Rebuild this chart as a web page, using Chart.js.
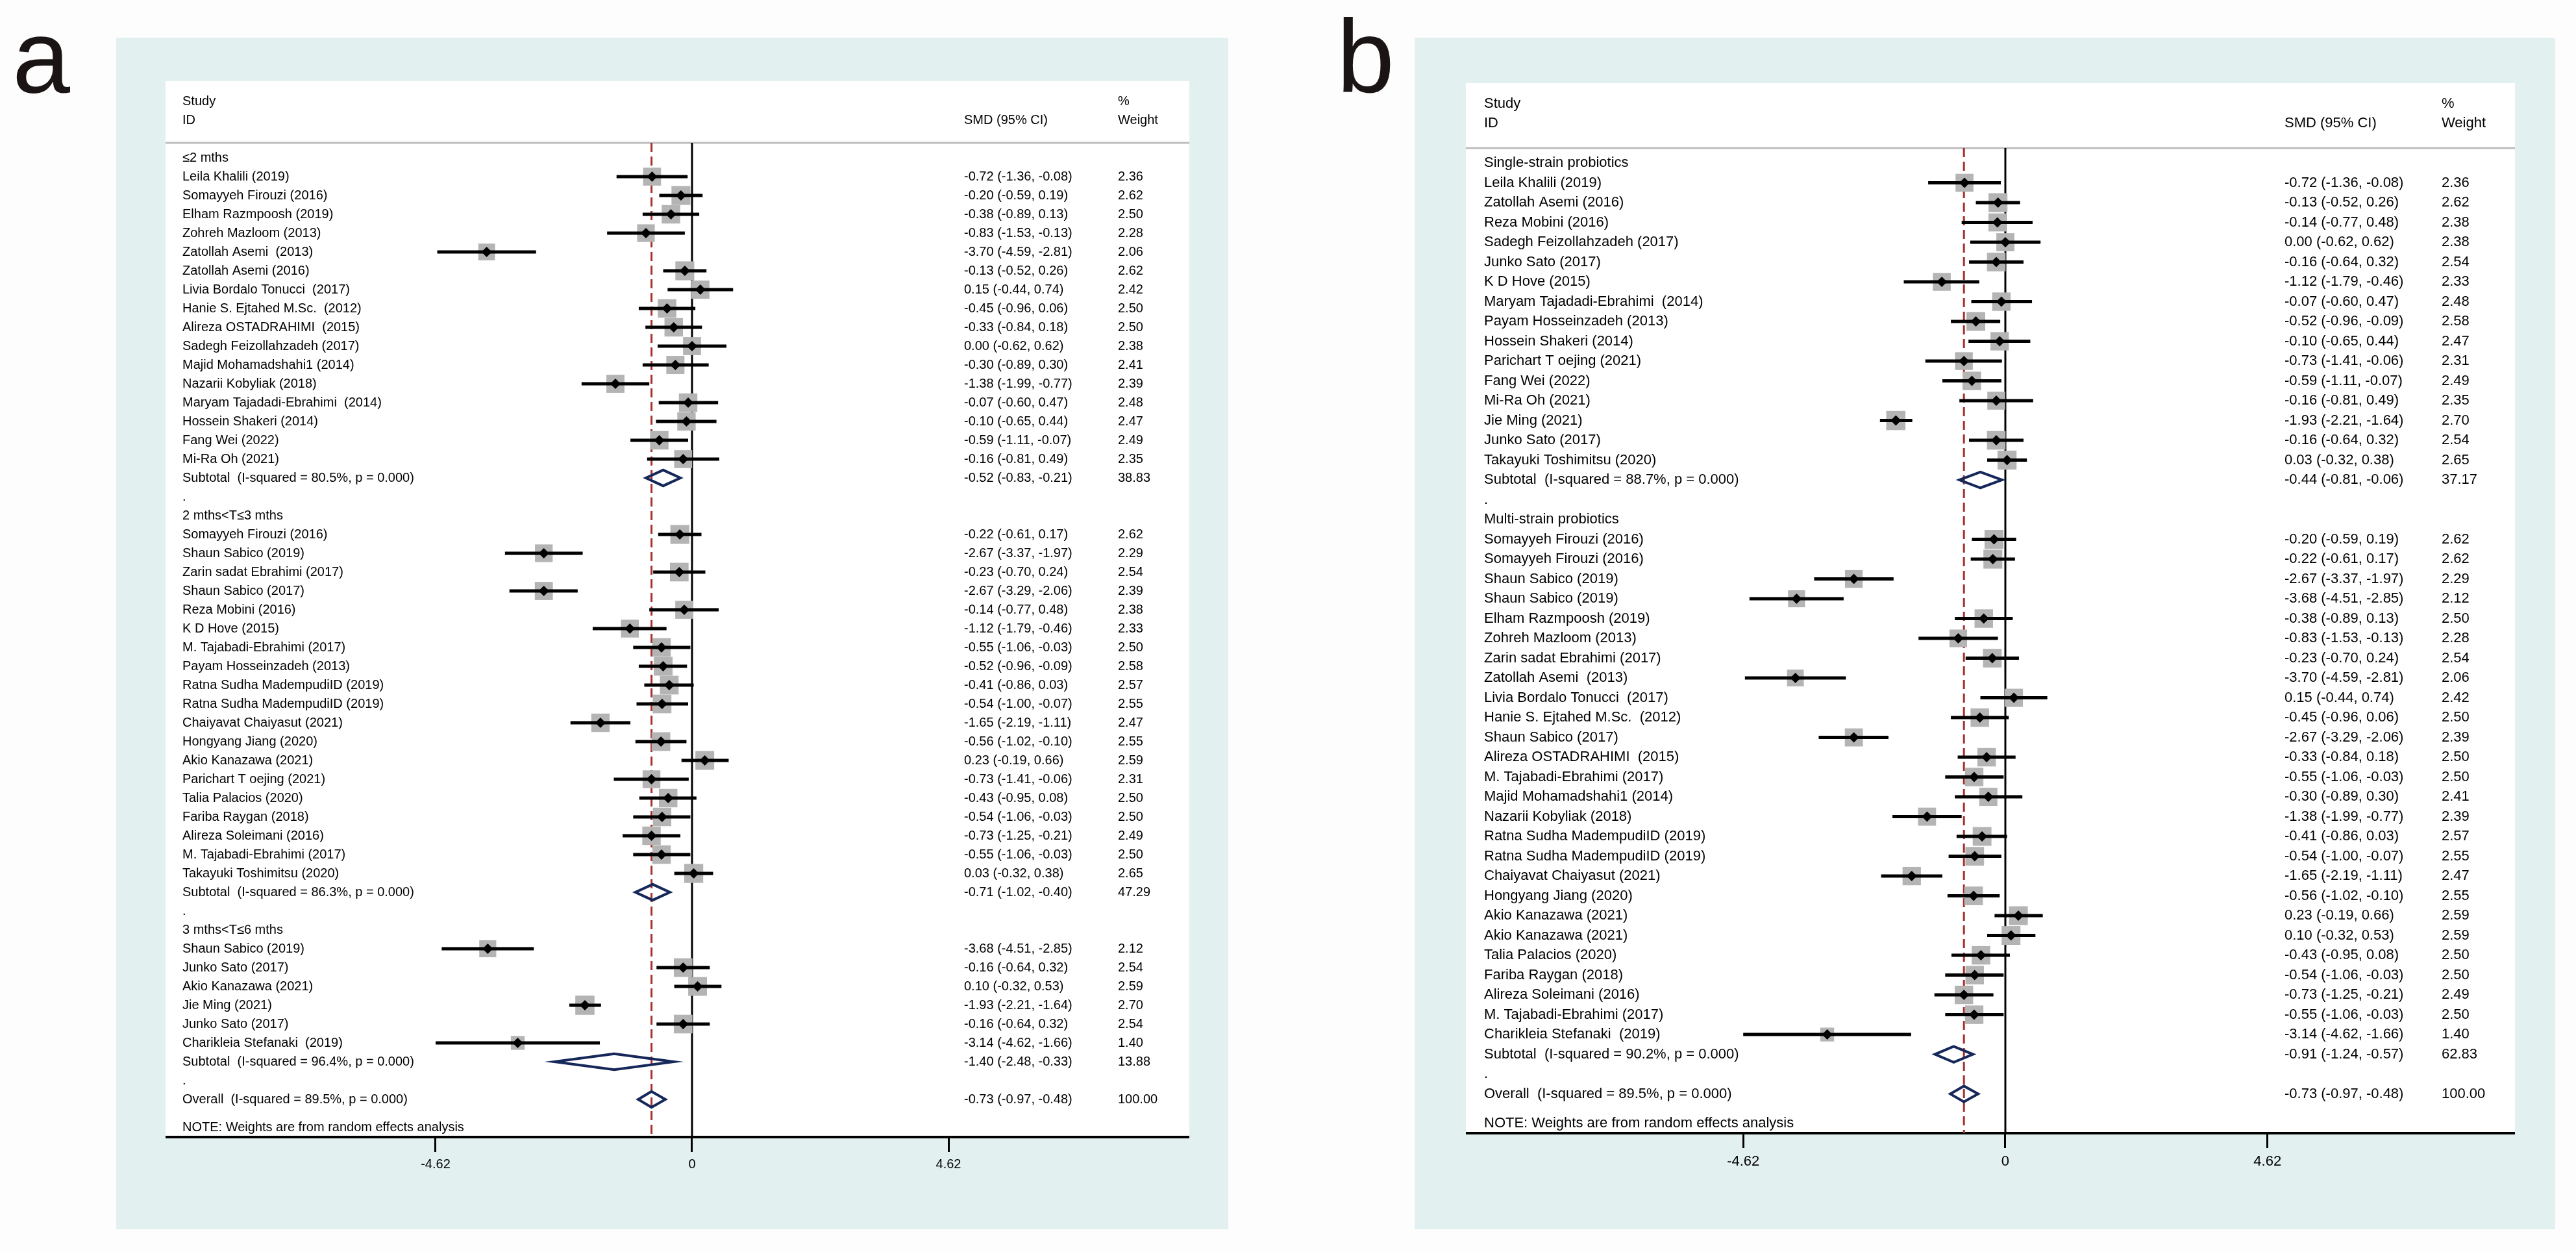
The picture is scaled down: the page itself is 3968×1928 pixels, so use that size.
<!DOCTYPE html>
<html>
<head>
<meta charset="utf-8">
<script src="https://cdn.jsdelivr.net/npm/chart.js@4.4.1/dist/chart.umd.min.js"></script>
<style>
html, body { margin: 0; padding: 0; background: #fdfdfd; }
body { width: 3968px; height: 1928px; position: relative; overflow: hidden; font-family: "Liberation Sans", Arial, sans-serif; }
.panel { position: absolute; background: #e3f0f0; }
.white { position: absolute; background: #ffffff; }
.letter { position: absolute; font-size: 160px; line-height: 160px; color: #1b1414; }
canvas { position: absolute; }
</style>
</head>
<body>
<div class="letter" style="left:19px;top:7px">a</div>
<div class="letter" style="left:2059px;top:7px">b</div>
<div class="panel" style="left:179px;top:58px;width:1713px;height:1835px"></div>
<div class="white" style="left:255px;top:125px;width:1577px;height:1626px"></div>
<canvas id="chartA" width="1577" height="1706" style="left:255px;top:125px"></canvas>
<div class="panel" style="left:2179px;top:58px;width:1757px;height:1835px"></div>
<div class="white" style="left:2258px;top:128px;width:1616px;height:1617px"></div>
<canvas id="chartB" width="1616" height="1697" style="left:2258px;top:128px"></canvas>

<script>
// ---------------- DATA ----------------
const headStudy = ["Study", "ID"];
const headSmd = "SMD (95% CI)";
const headWeight = ["%", "Weight"];
const noteText = "NOTE: Weights are from random effects analysis";
const xTickValues = [-4.62, 0, 4.62];

// Panel a: subgroup by duration
const aLabels = [
  "≤2 mths",
  "Leila Khalili (2019)",
  "Somayyeh Firouzi (2016)",
  "Elham Razmpoosh (2019)",
  "Zohreh Mazloom (2013)",
  "Zatollah Asemi  (2013)",
  "Zatollah Asemi (2016)",
  "Livia Bordalo Tonucci  (2017)",
  "Hanie S. Ejtahed M.Sc.  (2012)",
  "Alireza OSTADRAHIMI  (2015)",
  "Sadegh Feizollahzadeh (2017)",
  "Majid Mohamadshahi1 (2014)",
  "Nazarii Kobyliak (2018)",
  "Maryam Tajadadi-Ebrahimi  (2014)",
  "Hossein Shakeri (2014)",
  "Fang Wei (2022)",
  "Mi-Ra Oh (2021)",
  "Subtotal  (I-squared = 80.5%, p = 0.000)",
  ".",
  "2 mths<T≤3 mths",
  "Somayyeh Firouzi (2016)",
  "Shaun Sabico (2019)",
  "Zarin sadat Ebrahimi (2017)",
  "Shaun Sabico (2017)",
  "Reza Mobini (2016)",
  "K D Hove (2015)",
  "M. Tajabadi-Ebrahimi (2017)",
  "Payam Hosseinzadeh (2013)",
  "Ratna Sudha MadempudiID (2019)",
  "Ratna Sudha MadempudiID (2019)",
  "Chaiyavat Chaiyasut (2021)",
  "Hongyang Jiang (2020)",
  "Akio Kanazawa (2021)",
  "Parichart T oejing (2021)",
  "Talia Palacios (2020)",
  "Fariba Raygan (2018)",
  "Alireza Soleimani (2016)",
  "M. Tajabadi-Ebrahimi (2017)",
  "Takayuki Toshimitsu (2020)",
  "Subtotal  (I-squared = 86.3%, p = 0.000)",
  ".",
  "3 mths<T≤6 mths",
  "Shaun Sabico (2019)",
  "Junko Sato (2017)",
  "Akio Kanazawa (2021)",
  "Jie Ming (2021)",
  "Junko Sato (2017)",
  "Charikleia Stefanaki  (2019)",
  "Subtotal  (I-squared = 96.4%, p = 0.000)",
  ".",
  "Overall  (I-squared = 89.5%, p = 0.000)"
];
const aEst = [null,
  -0.72, -0.20, -0.38, -0.83, -3.70, -0.13, 0.15, -0.45, -0.33, 0.00, -0.30, -1.38, -0.07, -0.10, -0.59, -0.16,
  -0.52, null, null,
  -0.22, -2.67, -0.23, -2.67, -0.14, -1.12, -0.55, -0.52, -0.41, -0.54, -1.65, -0.56, 0.23, -0.73, -0.43, -0.54, -0.73, -0.55, 0.03,
  -0.71, null, null,
  -3.68, -0.16, 0.10, -1.93, -0.16, -3.14,
  -1.40, null,
  -0.73];
const aLo = [null,
  -1.36, -0.59, -0.89, -1.53, -4.59, -0.52, -0.44, -0.96, -0.84, -0.62, -0.89, -1.99, -0.60, -0.65, -1.11, -0.81,
  -0.83, null, null,
  -0.61, -3.37, -0.70, -3.29, -0.77, -1.79, -1.06, -0.96, -0.86, -1.00, -2.19, -1.02, -0.19, -1.41, -0.95, -1.06, -1.25, -1.06, -0.32,
  -1.02, null, null,
  -4.51, -0.64, -0.32, -2.21, -0.64, -4.62,
  -2.48, null,
  -0.97];
const aHi = [null,
  -0.08, 0.19, 0.13, -0.13, -2.81, 0.26, 0.74, 0.06, 0.18, 0.62, 0.30, -0.77, 0.47, 0.44, -0.07, 0.49,
  -0.21, null, null,
  0.17, -1.97, 0.24, -2.06, 0.48, -0.46, -0.03, -0.09, 0.03, -0.07, -1.11, -0.10, 0.66, -0.06, 0.08, -0.03, -0.21, -0.03, 0.38,
  -0.40, null, null,
  -2.85, 0.32, 0.53, -1.64, 0.32, -1.66,
  -0.33, null,
  -0.48];
const aWeight = [null,
  2.36, 2.62, 2.50, 2.28, 2.06, 2.62, 2.42, 2.50, 2.50, 2.38, 2.41, 2.39, 2.48, 2.47, 2.49, 2.35,
  38.83, null, null,
  2.62, 2.29, 2.54, 2.39, 2.38, 2.33, 2.50, 2.58, 2.57, 2.55, 2.47, 2.55, 2.59, 2.31, 2.50, 2.50, 2.49, 2.50, 2.65,
  47.29, null, null,
  2.12, 2.54, 2.59, 2.70, 2.54, 1.40,
  13.88, null,
  100.00];

// Panel b: subgroup by probiotic type
const bLabels = [
  "Single-strain probiotics",
  "Leila Khalili (2019)",
  "Zatollah Asemi (2016)",
  "Reza Mobini (2016)",
  "Sadegh Feizollahzadeh (2017)",
  "Junko Sato (2017)",
  "K D Hove (2015)",
  "Maryam Tajadadi-Ebrahimi  (2014)",
  "Payam Hosseinzadeh (2013)",
  "Hossein Shakeri (2014)",
  "Parichart T oejing (2021)",
  "Fang Wei (2022)",
  "Mi-Ra Oh (2021)",
  "Jie Ming (2021)",
  "Junko Sato (2017)",
  "Takayuki Toshimitsu (2020)",
  "Subtotal  (I-squared = 88.7%, p = 0.000)",
  ".",
  "Multi-strain probiotics",
  "Somayyeh Firouzi (2016)",
  "Somayyeh Firouzi (2016)",
  "Shaun Sabico (2019)",
  "Shaun Sabico (2019)",
  "Elham Razmpoosh (2019)",
  "Zohreh Mazloom (2013)",
  "Zarin sadat Ebrahimi (2017)",
  "Zatollah Asemi  (2013)",
  "Livia Bordalo Tonucci  (2017)",
  "Hanie S. Ejtahed M.Sc.  (2012)",
  "Shaun Sabico (2017)",
  "Alireza OSTADRAHIMI  (2015)",
  "M. Tajabadi-Ebrahimi (2017)",
  "Majid Mohamadshahi1 (2014)",
  "Nazarii Kobyliak (2018)",
  "Ratna Sudha MadempudiID (2019)",
  "Ratna Sudha MadempudiID (2019)",
  "Chaiyavat Chaiyasut (2021)",
  "Hongyang Jiang (2020)",
  "Akio Kanazawa (2021)",
  "Akio Kanazawa (2021)",
  "Talia Palacios (2020)",
  "Fariba Raygan (2018)",
  "Alireza Soleimani (2016)",
  "M. Tajabadi-Ebrahimi (2017)",
  "Charikleia Stefanaki  (2019)",
  "Subtotal  (I-squared = 90.2%, p = 0.000)",
  ".",
  "Overall  (I-squared = 89.5%, p = 0.000)"
];
const bEst = [null,
  -0.72, -0.13, -0.14, 0.00, -0.16, -1.12, -0.07, -0.52, -0.10, -0.73, -0.59, -0.16, -1.93, -0.16, 0.03,
  -0.44, null, null,
  -0.20, -0.22, -2.67, -3.68, -0.38, -0.83, -0.23, -3.70, 0.15, -0.45, -2.67, -0.33, -0.55, -0.30, -1.38,
  -0.41, -0.54, -1.65, -0.56, 0.23, 0.10, -0.43, -0.54, -0.73, -0.55, -3.14,
  -0.91, null,
  -0.73];
const bLo = [null,
  -1.36, -0.52, -0.77, -0.62, -0.64, -1.79, -0.60, -0.96, -0.65, -1.41, -1.11, -0.81, -2.21, -0.64, -0.32,
  -0.81, null, null,
  -0.59, -0.61, -3.37, -4.51, -0.89, -1.53, -0.70, -4.59, -0.44, -0.96, -3.29, -0.84, -1.06, -0.89, -1.99,
  -0.86, -1.00, -2.19, -1.02, -0.19, -0.32, -0.95, -1.06, -1.25, -1.06, -4.62,
  -1.24, null,
  -0.97];
const bHi = [null,
  -0.08, 0.26, 0.48, 0.62, 0.32, -0.46, 0.47, -0.09, 0.44, -0.06, -0.07, 0.49, -1.64, 0.32, 0.38,
  -0.06, null, null,
  0.19, 0.17, -1.97, -2.85, 0.13, -0.13, 0.24, -2.81, 0.74, 0.06, -2.06, 0.18, -0.03, 0.30, -0.77,
  0.03, -0.07, -1.11, -0.10, 0.66, 0.53, 0.08, -0.03, -0.21, -0.03, -1.66,
  -0.57, null,
  -0.48];
const bWeight = [null,
  2.36, 2.62, 2.38, 2.38, 2.54, 2.33, 2.48, 2.58, 2.47, 2.31, 2.49, 2.35, 2.70, 2.54, 2.65,
  37.17, null, null,
  2.62, 2.62, 2.29, 2.12, 2.50, 2.28, 2.54, 2.06, 2.42, 2.50, 2.39, 2.50, 2.50, 2.41, 2.39,
  2.57, 2.55, 2.47, 2.55, 2.59, 2.59, 2.50, 2.50, 2.49, 2.50, 1.40,
  62.83, null,
  100.00];

// ---------------- LAYOUT (per panel) ----------------
const layoutA = { xMin: -9.485, xMax: 8.959, yMin: -3.069, yMax: 53.0, sepRow: 0.207, font: 20,
  namePad: 26, smdPad: 1230, wPad: 1467, boxK: 18, diamH: 0.42, tickPad: 7 };
const layoutB = { xMin: -9.508, xMax: 8.982, yMin: -3.033, yMax: 49.98, sepRow: 0.246, font: 22,
  namePad: 28, smdPad: 1261, wPad: 1503, boxK: 18, diamH: 0.40, tickPad: 8 };

Chart.defaults.font.family = '"Liberation Sans", Arial, sans-serif';
Chart.defaults.color = '#000';

const f2 = v => v.toFixed(2);

function makeForest(canvasId, labels, est, lo, hi, weight, cfg) {
  const idx = labels.map((_, i) => i);
  const row = i => i + 1;
  const isSum = labels.map(s => /^(Subtotal|Overall)/.test(s));
  const studies = idx.filter(i => est[i] !== null && !isSum[i]);
  const sums = idx.filter(i => isSum[i]);
  const overallIdx = idx.filter(i => /^Overall/.test(labels[i]))[0];
  const noteRow = labels.length + 1.5;

  const nameMap = new Map([[-2, headStudy[0]], [-1, headStudy[1]]]);
  idx.forEach(i => nameMap.set(row(i), labels[i]));
  nameMap.set(noteRow, noteText);
  const smdMap = new Map([[-1, headSmd]]);
  const wMap = new Map([[-2, headWeight[0]], [-1, headWeight[1]]]);
  idx.forEach(i => {
    if (est[i] !== null) {
      smdMap.set(row(i), `${f2(est[i])} (${f2(lo[i])}, ${f2(hi[i])})`);
      wMap.set(row(i), f2(weight[i]));
    }
  });

  const textAxis = (map, pad) => ({
    type: 'linear', axis: 'y', position: 'left',
    min: cfg.yMin, max: cfg.yMax, reverse: true, bounds: 'data',
    grid: { display: false, drawTicks: false },
    border: { display: false },
    ticks: {
      mirror: true, crossAlign: 'near', padding: pad, autoSkip: false,
      color: '#000', font: { size: cfg.font },
      callback: v => (map.has(v) ? map.get(v) : '')
    },
    afterBuildTicks: s => { s.ticks = [...map.keys()].sort((a, b) => a - b).map(v => ({ value: v })); },
    afterFit: s => { s.width = 0; s.paddingTop = 0; s.paddingBottom = 0; s.paddingLeft = 0; s.paddingRight = 0; }
  });

  const h = cfg.diamH;
  const datasets = [
    { label: 'Point estimate', data: studies.map(i => ({ x: est[i], y: row(i) })),
      pointStyle: 'rectRot', pointRadius: 8, backgroundColor: '#000', borderWidth: 0, order: 1 },
    { label: 'Pooled estimate', data: sums.flatMap(i => [
        { x: lo[i], y: row(i) }, { x: est[i], y: row(i) - h }, { x: hi[i], y: row(i) },
        { x: est[i], y: row(i) + h }, { x: lo[i], y: row(i) }, { x: est[i], y: row(i) - h },
        { x: null, y: null }]),
      showLine: true, spanGaps: false, borderColor: '#16275a', borderWidth: 4, borderJoinStyle: 'miter',
      pointRadius: 0, fill: false, order: 2 },
    { label: '95% CI', data: studies.flatMap(i => [{ x: lo[i], y: row(i) }, { x: hi[i], y: row(i) }, { x: null, y: null }]),
      showLine: true, spanGaps: false, borderColor: '#000', borderWidth: 5, borderCapStyle: 'butt',
      pointRadius: 0, fill: false, order: 3 },
    { label: 'Weight', data: studies.map(i => ({ x: est[i], y: row(i) })),
      pointStyle: 'rect', pointRadius: studies.map(i => cfg.boxK * Math.sqrt(weight[i]) * Math.SQRT1_2),
      backgroundColor: '#b4b4b4', borderWidth: 0, order: 4 },
    { label: 'Overall line', data: [{ x: est[overallIdx], y: cfg.sepRow }, { x: est[overallIdx], y: cfg.yMax }],
      showLine: true, borderColor: '#a8312f', borderWidth: 3, borderDash: [14, 7], pointRadius: 0, order: 5 },
    { label: 'No effect', data: [{ x: 0, y: cfg.sepRow }, { x: 0, y: cfg.yMax }],
      showLine: true, borderColor: '#000', borderWidth: 3, pointRadius: 0, order: 6 },
    { label: 'Header rule', data: [{ x: cfg.xMin, y: cfg.sepRow }, { x: cfg.xMax, y: cfg.sepRow }],
      showLine: true, borderColor: '#bdbdbd', borderWidth: 3, pointRadius: 0, order: 7 }
  ];

  return new Chart(document.getElementById(canvasId), {
    type: 'scatter',
    data: { datasets },
    options: {
      responsive: false, animation: false, devicePixelRatio: 1, events: [],
      layout: { padding: 0, autoPadding: false },
      plugins: { legend: { display: false }, tooltip: { enabled: false }, title: { display: false } },
      scales: {
        x: {
          type: 'linear', position: 'bottom', min: cfg.xMin, max: cfg.xMax, bounds: 'data',
          grid: { display: true, drawOnChartArea: false, drawTicks: true, tickLength: 23, lineWidth: 3, color: '#000' },
          border: { display: true, color: '#000', width: 4 },
          ticks: { autoSkip: false, maxRotation: 0, color: '#000', font: { size: cfg.font }, padding: cfg.tickPad,
            callback: v => (v === 0 ? '0' : v.toFixed(2)) },
          afterBuildTicks: s => { s.ticks = xTickValues.map(v => ({ value: v })); },
          afterFit: s => { s.height = 80; s.paddingLeft = 0; s.paddingRight = 0; s.paddingTop = 0; s.paddingBottom = 0; }
        },
        y: textAxis(nameMap, cfg.namePad),
        ySmd: textAxis(smdMap, cfg.smdPad),
        yW: textAxis(wMap, cfg.wPad)
      }
    }
  });
}

makeForest('chartA', aLabels, aEst, aLo, aHi, aWeight, layoutA);
makeForest('chartB', bLabels, bEst, bLo, bHi, bWeight, layoutB);
</script>
</body>
</html>
